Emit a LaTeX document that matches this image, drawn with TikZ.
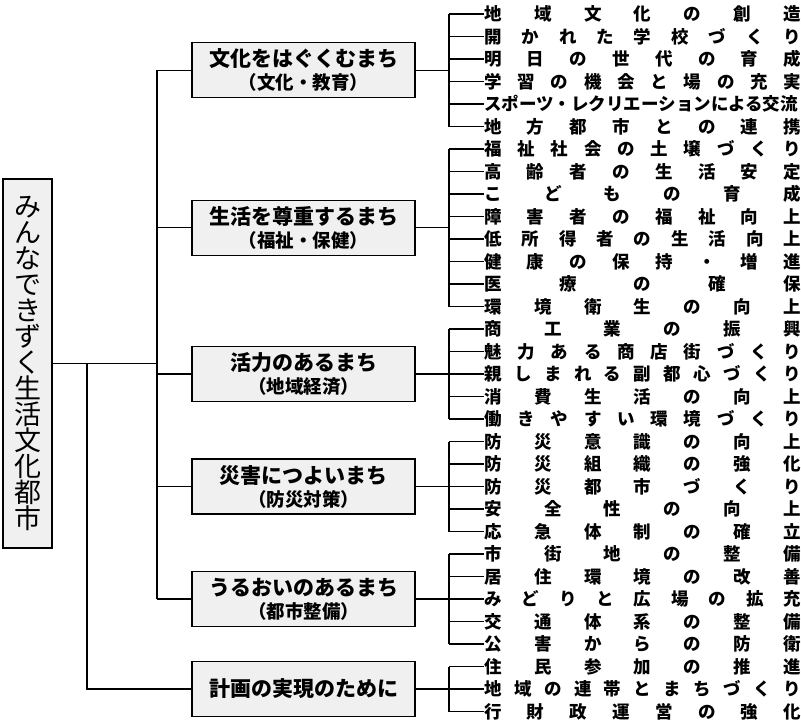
\documentclass[tikz,border=0pt]{standalone}
\usepackage{fontspec}
\setmainfont{Noto Sans CJK JP}
\newcommand{\spread}[1]{\makebox[317pt][s]{#1}}
\newcommand{\sub}[1]{{\fontsize{18.5}{21}\selectfont #1}}
\tikzset{
  root/.style={draw, line width=1.4pt, fill=gray!12, minimum width=49pt, minimum height=369pt,
    inner sep=0pt, align=center, font=\fontsize{27}{26}\selectfont},
  theme/.style={draw, line width=1.4pt, fill=gray!12, minimum width=223pt, minimum height=55pt,
    inner sep=0pt, align=center, font=\bfseries\fontsize{21}{23}\selectfont},
  item/.style={anchor=west, inner sep=0pt, font=\bfseries\fontsize{17.5}{20}\selectfont},
  link/.style={line width=1.2pt},
}
\begin{document}
\begin{tikzpicture}[x=1pt,y=-1pt]
        \useasboundingbox (0,0) rectangle (801,724);
        % Draw city box
        \node[root] (city) at (27.5,363.5) {み\\ん\\な\\で\\き\\ず\\く\\生\\活\\文\\化\\都\\市};
        % Draw theme boxes
        \node[theme] (culture) at (303.5,70.25) {文化をはぐくむまち\\\sub{（文化・教育）}};
        \node[theme] (welfare) at (303.5,227.75) {生活を尊重するまち\\\sub{（福祉・保健）}};
        \node[theme] (economy) at (303.5,374) {活力のあるまち\\\sub{（地域経済）}};
        \node[theme] (safety) at (303.5,486.5) {災害につよいまち\\\sub{（防災対策）}};
        \node[theme] (green) at (303.5,599) {うるおいのあるまち\\\sub{（都市整備）}};
        \node[theme] (plan) at (303.5,689) {計画の実現のために};
        % Draw culture items
        \node[item] (c1) at (484,14) {\spread{地 域 文 化 の 創 造}};
        \node[item] (c2) at (484,36.5) {\spread{開 か れ た 学 校 づ く り}};
        \node[item] (c3) at (484,59) {\spread{明 日 の 世 代 の 育 成}};
        \node[item] (c4) at (484,81.5) {\spread{学 習 の 機 会 と 場 の 充 実}};
        \node[item] (c5) at (484,104) {\spread{スポーツ・レクリエーションによる交流}};
        \node[item] (c6) at (484,126.5) {\spread{地 方 都 市 と の 連 携}};
        % Draw welfare items
        \node[item] (w1) at (484,149) {\spread{福 祉 社 会 の 土 壌 づ く り}};
        \node[item] (w2) at (484,171.5) {\spread{高 齢 者 の 生 活 安 定}};
        \node[item] (w3) at (484,194) {\spread{こ ど も の 育 成}};
        \node[item] (w4) at (484,216.5) {\spread{障 害 者 の 福 祉 向 上}};
        \node[item] (w5) at (484,239) {\spread{低 所 得 者 の 生 活 向 上}};
        \node[item] (w6) at (484,261.5) {\spread{健 康 の 保 持 ・ 増 進}};
        \node[item] (w7) at (484,284) {\spread{医 療 の 確 保}};
        \node[item] (w8) at (484,306.5) {\spread{環 境 衛 生 の 向 上}};
        % Draw economy items
        \node[item] (e1) at (484,329) {\spread{商 工 業 の 振 興}};
        \node[item] (e2) at (484,351.5) {\spread{魅 力 あ る 商 店 街 づ く り}};
        \node[item] (e3) at (484,374) {\spread{親 し ま れ る 副 都 心 づ く り}};
        \node[item] (e4) at (484,396.5) {\spread{消 費 生 活 の 向 上}};
        \node[item] (e5) at (484,419) {\spread{働 き や す い 環 境 づ く り}};
        % Draw safety items
        \node[item] (s1) at (484,441.5) {\spread{防 災 意 識 の 向 上}};
        \node[item] (s2) at (484,464) {\spread{防 災 組 織 の 強 化}};
        \node[item] (s3) at (484,486.5) {\spread{防 災 都 市 づ く り}};
        \node[item] (s4) at (484,509) {\spread{安 全 性 の 向 上}};
        \node[item] (s5) at (484,531.5) {\spread{応 急 体 制 の 確 立}};
        % Draw green items
        \node[item] (g1) at (484,554) {\spread{市 街 地 の 整 備}};
        \node[item] (g2) at (484,576.5) {\spread{居 住 環 境 の 改 善}};
        \node[item] (g3) at (484,599) {\spread{み ど り と 広 場 の 拡 充}};
        \node[item] (g4) at (484,621.5) {\spread{交 通 体 系 の 整 備}};
        \node[item] (g5) at (484,644) {\spread{公 害 か ら の 防 衛}};
        % Draw plan items
        \node[item] (p1) at (484,666.5) {\spread{住 民 参 加 の 推 進}};
        \node[item] (p2) at (484,689) {\spread{地 域 の 連 帯 と ま ち づ く り}};
        \node[item] (p3) at (484,711.5) {\spread{行 財 政 運 営 の 強 化}};
        % Draw left tree
        \coordinate (spine) at (157,363.5);
        \coordinate (trunk) at (87,363.5);
        \draw[link] (city.east) -- (spine);
        \draw[link] (trunk) |- (plan.west);
        \draw[link] (spine |- culture.west) -- (spine |- green.west);
        \draw[link] (spine |- culture.west) -- (culture.west);
        \draw[link] (spine |- welfare.west) -- (welfare.west);
        \draw[link] (spine |- economy.west) -- (economy.west);
        \draw[link] (spine |- safety.west) -- (safety.west);
        \draw[link] (spine |- green.west) -- (green.west);
        % Draw brackets
        \coordinate (bc) at (449,70.25);
        \coordinate (bw) at (449,227.75);
        \coordinate (be) at (449,374);
        \coordinate (bs) at (449,486.5);
        \coordinate (bg) at (449,599);
        \coordinate (bp) at (449,689);
        \draw[link] (culture.east) -- (bc) (c1.west -| bc) -- (c6.west -| bc);
        \draw[link] (welfare.east) -- (bw) (w1.west -| bw) -- (w8.west -| bw);
        \draw[link] (economy.east) -- (be) (e1.west -| be) -- (e5.west -| be);
        \draw[link] (safety.east) -- (bs) (s1.west -| bs) -- (s5.west -| bs);
        \draw[link] (green.east) -- (bg) (g1.west -| bg) -- (g5.west -| bg);
        \draw[link] (plan.east) -- (bp) (p1.west -| bp) -- (p3.west -| bp);
        \foreach \n in {1,...,6} \draw[link] (c\n.west -| bc) -- (c\n.west);
        \foreach \n in {1,...,8} \draw[link] (w\n.west -| bw) -- (w\n.west);
        \foreach \n in {1,...,5} \draw[link] (e\n.west -| be) -- (e\n.west);
        \foreach \n in {1,...,5} \draw[link] (s\n.west -| bs) -- (s\n.west);
        \foreach \n in {1,...,5} \draw[link] (g\n.west -| bg) -- (g\n.west);
        \foreach \n in {1,...,3} \draw[link] (p\n.west -| bp) -- (p\n.west);
    \end{tikzpicture}
\end{document}
